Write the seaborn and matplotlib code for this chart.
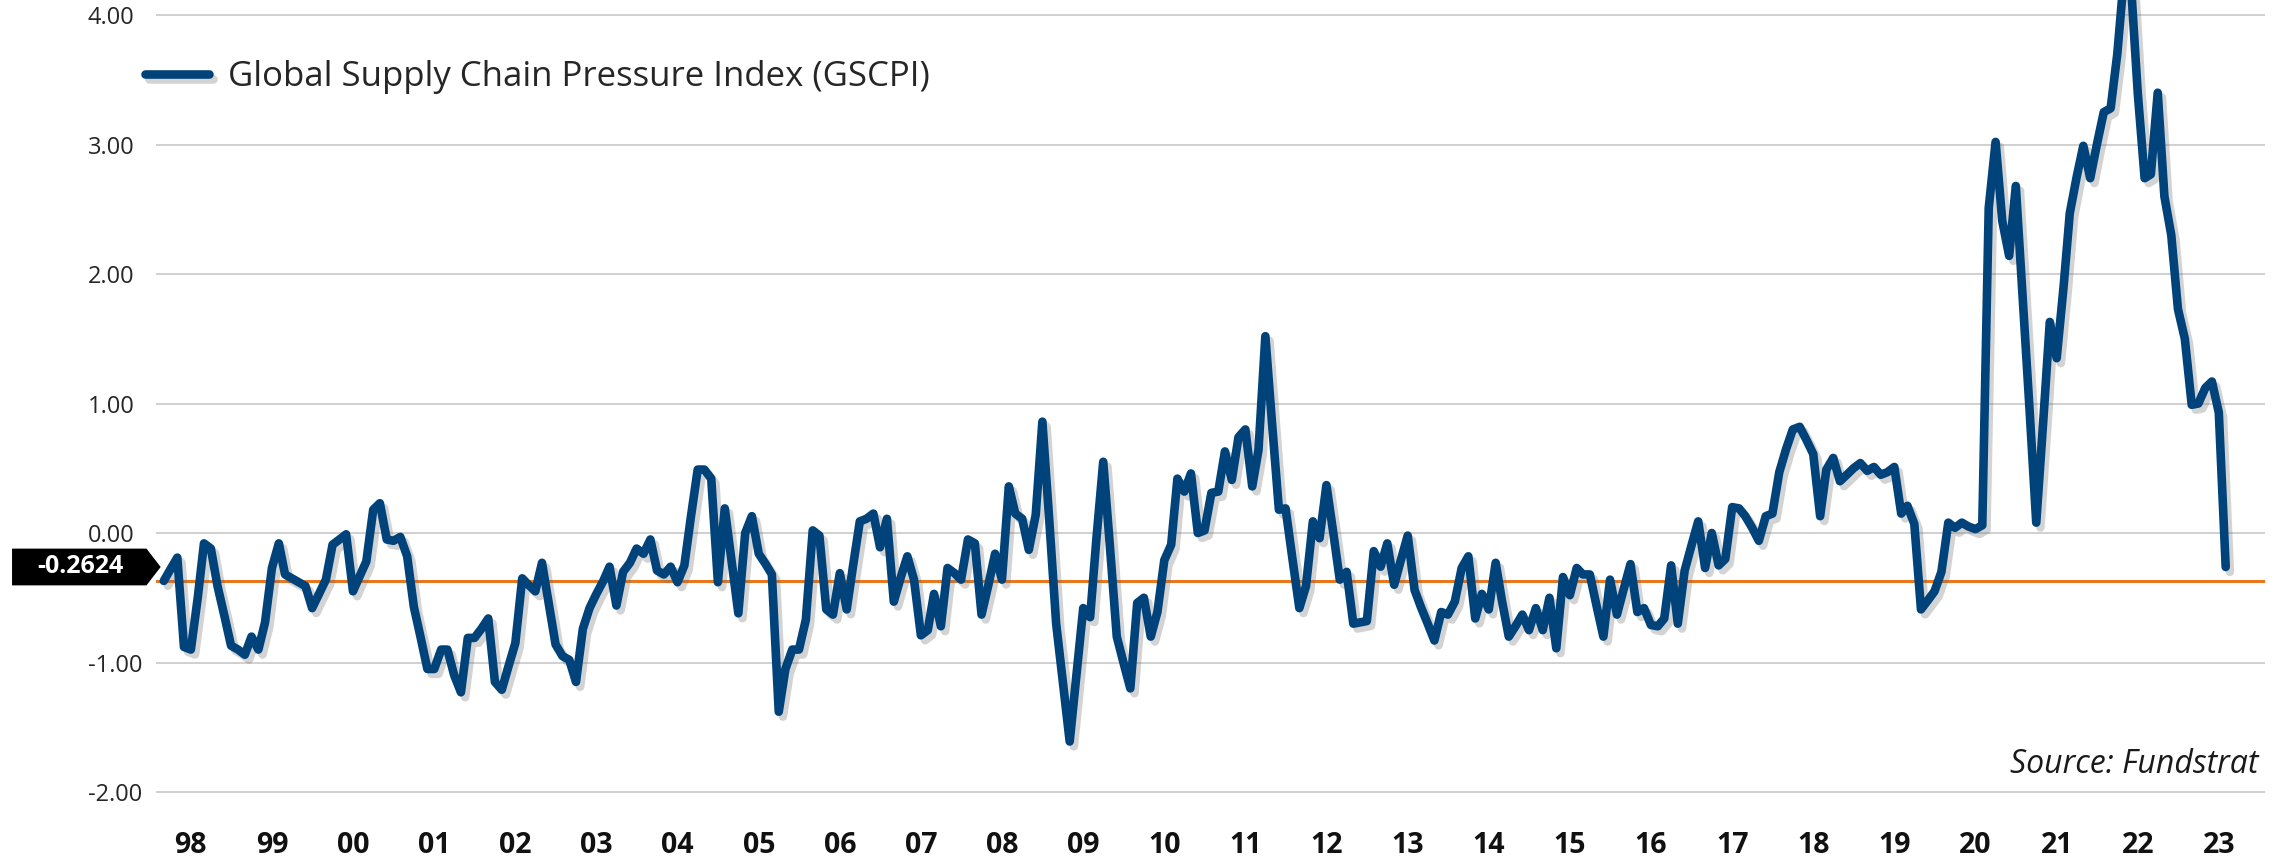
import pandas as pd
import matplotlib
matplotlib.use("Agg")
import matplotlib.pyplot as plt
import matplotlib.ticker as mticker
import matplotlib.patheffects as pe
import matplotlib.transforms as mtransforms
from matplotlib.patches import Polygon
import seaborn as sns

# --- DATA (monthly, Sep 1997 - Feb 2023) ---
start_month = '1997-09-01'
gscpi = [
    # 1997 (Sep-Dec)
    -0.37, -0.28, -0.19, -0.88,
    # 1998
    -0.90, -0.50, -0.08, -0.12, -0.41, -0.64, -0.87, -0.90, -0.94, -0.80, -0.90, -0.69,
    # 1999
    -0.27, -0.08, -0.32, -0.35, -0.38, -0.41, -0.58, -0.47, -0.36, -0.09, -0.05, -0.01,
    # 2000
    -0.45, -0.33, -0.22, 0.18, 0.23, -0.05, -0.06, -0.03, -0.18, -0.57, -0.81, -1.05,
    # 2001
    -1.05, -0.90, -0.90, -1.10, -1.23, -0.81, -0.81, -0.74, -0.66, -1.15, -1.21, -1.03,
    # 2002
    -0.85, -0.35, -0.40, -0.45, -0.23, -0.55, -0.86, -0.95, -0.98, -1.15, -0.74, -0.58,
    # 2003
    -0.47, -0.37, -0.26, -0.56, -0.30, -0.23, -0.12, -0.16, -0.05, -0.29, -0.32, -0.26,
    # 2004
    -0.38, -0.25, 0.12, 0.49, 0.49, 0.42, -0.38, 0.19, -0.22, -0.62, 0.00, 0.13,
    # 2005
    -0.16, -0.24, -0.32, -1.38, -1.05, -0.90, -0.90, -0.67, 0.02, -0.02, -0.59, -0.63,
    # 2006
    -0.31, -0.59, -0.26, 0.09, 0.11, 0.15, -0.11, 0.11, -0.53, -0.35, -0.18, -0.36,
    # 2007
    -0.79, -0.75, -0.47, -0.72, -0.27, -0.31, -0.36, -0.05, -0.08, -0.63, -0.40, -0.16,
    # 2008
    -0.36, 0.36, 0.15, 0.11, -0.13, 0.14, 0.86, 0.10, -0.70, -1.15, -1.61, -1.10,
    # 2009
    -0.58, -0.65, -0.05, 0.55, -0.10, -0.80, -1.00, -1.20, -0.54, -0.50, -0.80, -0.61,
    # 2010
    -0.21, -0.09, 0.42, 0.32, 0.46, 0.00, 0.02, 0.31, 0.32, 0.63, 0.41, 0.74,
    # 2011
    0.80, 0.36, 0.64, 1.52, 0.85, 0.18, 0.19, -0.20, -0.58, -0.41, 0.09, -0.04,
    # 2012
    0.37, 0.00, -0.36, -0.30, -0.70, -0.69, -0.68, -0.14, -0.26, -0.08, -0.40, -0.21,
    # 2013
    -0.02, -0.44, -0.57, -0.70, -0.83, -0.61, -0.63, -0.53, -0.27, -0.18, -0.66, -0.47,
    # 2014
    -0.59, -0.23, -0.52, -0.80, -0.72, -0.63, -0.75, -0.58, -0.75, -0.50, -0.89, -0.34,
    # 2015
    -0.48, -0.27, -0.32, -0.32, -0.56, -0.80, -0.36, -0.63, -0.43, -0.24, -0.61, -0.58,
    # 2016
    -0.71, -0.72, -0.66, -0.25, -0.70, -0.29, -0.10, 0.09, -0.27, 0.00, -0.25, -0.20,
    # 2017
    0.20, 0.19, 0.13, 0.04, -0.06, 0.13, 0.15, 0.47, 0.65, 0.80, 0.82, 0.72,
    # 2018
    0.61, 0.13, 0.49, 0.58, 0.40, 0.45, 0.50, 0.54, 0.48, 0.51, 0.45, 0.47,
    # 2019
    0.51, 0.15, 0.21, 0.07, -0.59, -0.52, -0.45, -0.30, 0.08, 0.04, 0.08, 0.05,
    # 2020
    0.03, 0.06, 2.51, 3.02, 2.41, 2.14, 2.68, 1.81, 0.95, 0.08, 0.85, 1.63,
    # 2021
    1.35, 1.90, 2.47, 2.75, 2.99, 2.74, 3.00, 3.25, 3.28, 3.70, 4.32, 4.25,
    # 2022
    3.40, 2.74, 2.77, 3.40, 2.60, 2.30, 1.73, 1.50, 0.99, 1.00, 1.12, 1.17,
    # 2023 (Jan-Feb)
    0.93, -0.2624,
]
reference_level = -0.37
series_label = 'Global Supply Chain Pressure Index (GSCPI)'
last_label = '-0.2624'
source_text = 'Source: Fundstrat'
y_ticks = [-2, -1, 0, 1, 2, 3, 4]
tick_years = pd.date_range('1998-01-01', '2023-01-01', freq='YS')

df = pd.DataFrame({
    'Month': pd.date_range(start_month, periods=len(gscpi), freq='MS'),
    'GSCPI': gscpi,
})

# --- STYLE ---
sns.set_theme(style="white")
plt.rcParams['font.family'] = ['Open Sans', 'DejaVu Sans']

navy = '#00427A'
orange = '#E8771E'
grid_grey = '#C4C4C4'
text_dark = '#262626'

W, H = 2277, 857
fig = plt.figure(figsize=(W / 100, H / 100), dpi=100)
ax = fig.add_axes([156 / W, 1 - 794.6 / H, (2265 - 156) / W, 794.6 / H])

# --- PLOT ---
ax.axhline(reference_level, color=orange, linewidth=2.2, zorder=2)
sns.lineplot(data=df, x='Month', y='GSCPI', ax=ax, color=navy, linewidth=6.2,
             label=series_label, zorder=3)
line = ax.lines[-1]
line.set_solid_joinstyle('round')
line.set_solid_capstyle('round')
line.set_path_effects([pe.SimpleLineShadow(offset=(3, -3.5), shadow_color='#6f6f6f', alpha=0.3),
                       pe.Normal()])

ax.set_xlim(pd.Timestamp('1997-07-28'), pd.Timestamp('2023-07-28'))
ax.set_ylim(-2.02, 4.116)

# gridlines & spines
ax.set_yticks(y_ticks)
ax.yaxis.grid(True, color=grid_grey, linewidth=1.1)
ax.xaxis.grid(False)
ax.set_axisbelow(True)
for s in ax.spines.values():
    s.set_visible(False)

ax.yaxis.set_major_formatter(mticker.FuncFormatter(lambda v, p: f'{v:.2f}'))
ax.tick_params(axis='y', length=0, pad=49, labelsize=17, labelcolor=text_dark)
for lab in ax.get_yticklabels():
    lab.set_horizontalalignment('left')

ax.set_xticks(tick_years)
ax.set_xticklabels([f'{d:%y}' for d in tick_years], fontweight='bold')
ax.tick_params(axis='x', length=0, pad=26, labelsize=20.5, labelcolor='#111111')
ax.set_xlabel('')
ax.set_ylabel('')

# legend top-left
leg = ax.legend(loc='center left', bbox_to_anchor=(145 / W, 1 - 77 / H),
                bbox_transform=fig.transFigure, frameon=False, fontsize=25,
                handlelength=1.85, handletextpad=0.55, borderpad=0, borderaxespad=0)
for t in leg.get_texts():
    t.set_color(text_dark)

# source note
ax.text(0.997, -1.79, source_text, transform=ax.get_yaxis_transform(),
        ha='right', va='center', fontsize=23, style='italic', color='#1a1a1a')

# last value tag on the left
last = gscpi[-1]
tag_tr = mtransforms.blended_transform_factory(fig.transFigure, ax.transData)
half = 0.15
tag = Polygon([(11 / W, last + half), (147 / W, last + half), (162 / W, last),
               (147 / W, last - half), (11 / W, last - half)],
              closed=True, facecolor='black', edgecolor='white', linewidth=1.5,
              transform=tag_tr, clip_on=False, zorder=5)
ax.add_patch(tag)
ax.text(80.5 / W, last, last_label, transform=tag_tr, ha='center', va='center',
        fontsize=18, fontweight='bold', color='white', zorder=6, clip_on=False)

plt.savefig('out.png', dpi=100)
plt.close()
print("-> Saved 'out.png'")
